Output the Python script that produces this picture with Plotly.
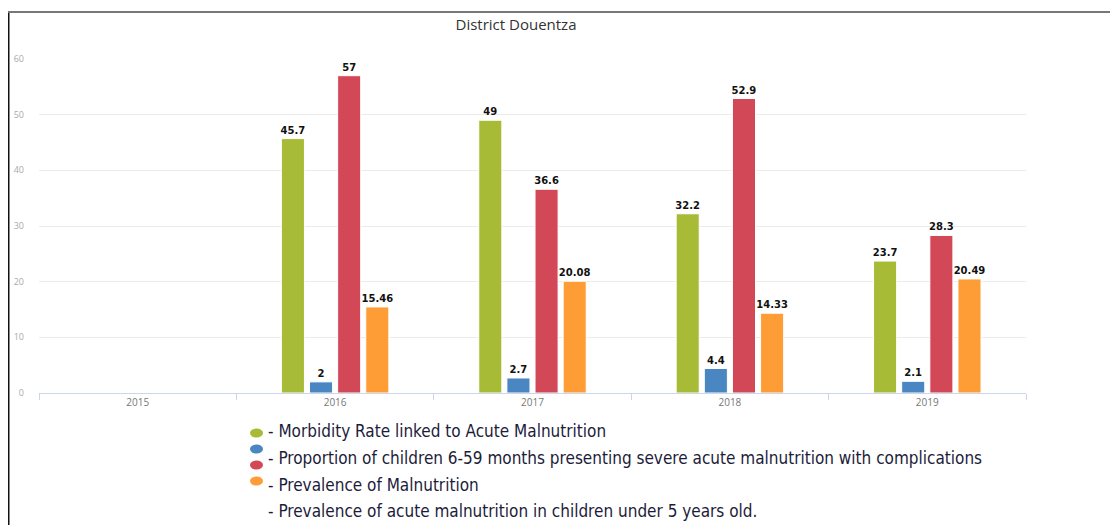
import plotly.graph_objects as go

years = ["2015", "2016", "2017", "2018", "2019"]
morbidity = [None, 45.7, 49, 32.2, 23.7]
proportion_sam = [None, 2, 2.7, 4.4, 2.1]
prevalence_mal = [None, 57, 36.6, 52.9, 28.3]
prevalence_acute = [None, 15.46, 20.08, 14.33, 20.49]
value_labels = [
    [None, "45.7", "49", "32.2", "23.7"],
    [None, "2", "2.7", "4.4", "2.1"],
    [None, "57", "36.6", "52.9", "28.3"],
    [None, "15.46", "20.08", "14.33", "20.49"],
]
series_names = [
    "Morbidity Rate linked to Acute Malnutrition",
    "Proportion of children 6-59 months presenting severe acute malnutrition with complications",
    "Prevalence of Malnutrition",
    "Prevalence of acute malnutrition in children under 5 years old.",
]
colors = ["#a8bb37", "#4a86c2", "#d34857", "#fe9d35"]
legend_lines = [
    "- Morbidity Rate linked to Acute Malnutrition",
    "- Proportion of children 6-59 months presenting severe acute malnutrition with complications",
    "- Prevalence of Malnutrition",
    "- Prevalence of acute malnutrition in children under 5 years old.",
]

OFF = 8  # page body margin
W, H = 1118 - OFF, 525 - OFF
L, R, T, B = 39 - OFF, 1118 - 1026, 59 - OFF, 525 - 393
PW, PH = W - L - R, H - T - B


def px(x):
    return (x - OFF - L) / PW


def py(y):
    return (H - B - (y - OFF)) / PH


fig = go.Figure()
for vals, name, col, labels in zip(
    [morbidity, proportion_sam, prevalence_mal, prevalence_acute], series_names, colors, value_labels
):
    fig.add_trace(go.Bar(
        x=years, y=vals, name=name,
        marker=dict(color=col, line=dict(color="white", width=1)),
        text=labels, textposition="outside", cliponaxis=False, constraintext="none",
        textfont=dict(family="DejaVu Sans", size=10, color="#111111", weight="bold"),
    ))

shapes = []
# frame lines
shapes.append(dict(type="line", xref="paper", yref="paper", x0=px(8.5), x1=px(8.5), y0=py(12), y1=py(525),
                   line=dict(color="#111111", width=2)))
shapes.append(dict(type="line", xref="paper", yref="paper", x0=px(8), x1=px(1118), y0=py(12), y1=py(12),
                   line=dict(color="#777777", width=2)))
# legend dots
dot_y = [433, 449, 465, 481]
for c, yy in zip(colors, dot_y):
    shapes.append(dict(type="circle", xref="paper", yref="paper",
                       x0=px(250), x1=px(263), y0=py(yy - 4.5), y1=py(yy + 4.5),
                       fillcolor=c, line=dict(width=0)))

annotations = []
line_y = [431, 458, 485, 511]
for t, yy in zip(legend_lines, line_y):
    annotations.append(dict(text=t, xref="paper", yref="paper", x=px(266), y=py(yy),
                            xanchor="left", yanchor="middle", showarrow=False,
                            font=dict(family="DejaVu Sans Condensed, Liberation Sans Narrow, sans-serif",
                                      size=17, color="#1c1c3a")))

fig.update_layout(
    width=W, height=H,
    margin=dict(l=L, r=R, t=T, b=B, autoexpand=False),
    paper_bgcolor="white", plot_bgcolor="white",
    title=dict(text="District Douentza", x=(516 - OFF) / W, xref="container", xanchor="center",
               y=1 - (25 - OFF) / H, yref="container", yanchor="middle",
               font=dict(family="Open Sans", size=15, color="#333333")),
    barmode="group", bargap=0.43, bargroupgap=0.18,
    showlegend=False,
    shapes=shapes, annotations=annotations,
    xaxis=dict(type="category", showline=True, linecolor="#ccd6eb", linewidth=1, automargin=False,
               ticks="outside", tickson="boundaries", ticklen=6, tickcolor="#ccd6eb",
               tickfont=dict(family="Open Sans", size=10, color="#777777"), showgrid=False),
    yaxis=dict(range=[0, 60], dtick=10, showgrid=True, gridcolor="#ececec", gridwidth=1,
               zeroline=False, ticklabelstandoff=14, automargin=False,
               tickfont=dict(family="Open Sans", size=9, color="#aaaaaa")),
)

fig.write_html("out.html")
